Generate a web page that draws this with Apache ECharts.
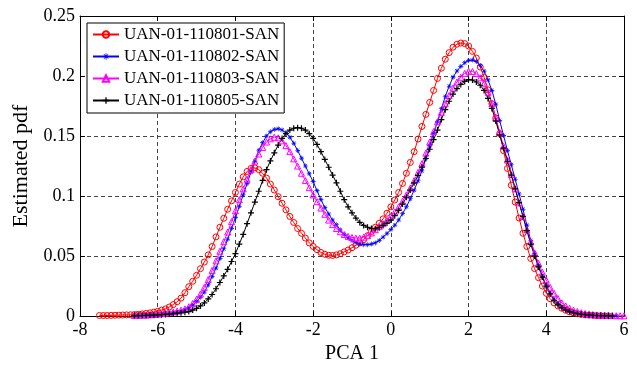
<!DOCTYPE html>
<html>
<head>
<meta charset="utf-8">
<script src="https://cdn.jsdelivr.net/npm/echarts@6/dist/echarts.min.js"></script>
<style>
html,body{margin:0;padding:0;background:#fff;}
#chart{width:637px;height:369px;}
</style>
</head>
<body>
<div id="chart"></div>
<script>
// Sample positions along PCA 1 (shared by all series)
var xs = [
  -7.5,-7.4,-7.3,-7.2,-7.1,-7.0,-6.9,-6.8,-6.7,-6.6,
  -6.5,-6.4,-6.3,-6.2,-6.1,-6.0,-5.9,-5.8,-5.7,-5.6,
  -5.5,-5.4,-5.3,-5.2,-5.1,-5.0,-4.9,-4.8,-4.7,-4.6,
  -4.5,-4.4,-4.3,-4.2,-4.1,-4.0,-3.9,-3.8,-3.7,-3.6,
  -3.5,-3.4,-3.3,-3.2,-3.1,-3.0,-2.9,-2.8,-2.7,-2.6,
  -2.5,-2.4,-2.3,-2.2,-2.1,-2.0,-1.9,-1.8,-1.7,-1.6,
  -1.5,-1.4,-1.3,-1.2,-1.1,-1.0,-0.9,-0.8,-0.7,-0.6,
  -0.5,-0.4,-0.3,-0.2,-0.1,0.0,0.1,0.2,0.3,0.4,
  0.5,0.6,0.7,0.8,0.9,1.0,1.1,1.2,1.3,1.4,
  1.5,1.6,1.7,1.8,1.9,2.0,2.1,2.2,2.3,2.4,
  2.5,2.6,2.7,2.8,2.9,3.0,3.1,3.2,3.3,3.4,
  3.5,3.6,3.7,3.8,3.9,4.0,4.1,4.2,4.3,4.4,
  4.5,4.6,4.7,4.8,4.9,5.0,5.1,5.2,5.3,5.4,
  5.5,5.6,5.7,5.8,5.9,6.0];

var names = ['UAN-01-110801-SAN','UAN-01-110802-SAN','UAN-01-110803-SAN','UAN-01-110805-SAN'];

var pdf110801 = [
  0.0005,0.0005,0.0005,0.0006,0.0007,0.0008,0.0009,0.001,0.0011,0.0013,
  0.0015,0.0018,0.0022,0.0027,0.0033,0.004,0.005,0.006,0.0076,0.0096,
  0.012,0.015,0.0195,0.0245,0.029,0.034,0.0395,0.045,0.051,0.058,
  0.066,0.074,0.0815,0.089,0.096,0.103,0.110,0.116,0.1205,0.123,
  0.1235,0.122,0.119,0.115,0.110,0.105,0.0995,0.094,0.0885,0.083,
  0.078,0.073,0.069,0.065,0.061,0.058,0.0553,0.053,0.0515,0.0507,
  0.0505,0.051,0.052,0.0535,0.055,0.057,0.059,0.061,0.0637,0.067,
  0.0705,0.074,0.0773,0.081,0.0857,0.091,0.0967,0.103,0.1105,0.119,
  0.128,0.137,0.1475,0.158,0.168,0.178,0.188,0.198,0.2065,0.214,
  0.2195,0.224,0.2265,0.2275,0.227,0.225,0.2205,0.215,0.2075,0.199,
  0.1885,0.177,0.165,0.152,0.1378,0.123,0.109,0.095,0.0817,0.069,
  0.058,0.048,0.0395,0.032,0.025,0.019,0.0145,0.011,0.0085,0.0065,
  0.0048,0.0035,0.0027,0.002,0.0014,0.001,0.0008,0.0006,0.0004,0.0003,
  0.0002,0.0002,null,null,null,null];

var pdf110802 = [
  null,null,null,null,null,null,null,null,null,0.0005,
  0.0005,0.0006,0.0007,0.0008,0.001,0.0012,0.0015,0.0018,0.0021,0.0025,
  0.003,0.0037,0.005,0.0068,0.009,0.012,0.0157,0.020,0.026,0.033,
  0.040,0.048,0.056,0.064,0.073,0.082,0.0915,0.101,0.1105,0.120,
  0.129,0.138,0.1445,0.150,0.1535,0.1555,0.156,0.155,0.1525,0.149,
  0.144,0.138,0.1315,0.125,0.1185,0.112,0.1045,0.097,0.0905,0.085,
  0.080,0.076,0.0717,0.068,0.065,0.063,0.0612,0.060,0.0595,0.0595,
  0.060,0.061,0.063,0.0658,0.0688,0.072,0.0757,0.080,0.0853,0.091,
  0.0977,0.105,0.1127,0.121,0.1313,0.142,0.152,0.162,0.1727,0.183,
  0.1915,0.199,0.2042,0.208,0.211,0.213,0.2133,0.212,0.2087,0.204,
  0.1967,0.188,0.1765,0.163,0.1505,0.138,0.126,0.114,0.1017,0.089,
  0.0757,0.063,0.052,0.042,0.033,0.025,0.019,0.014,0.0105,0.0075,
  0.0055,0.004,0.003,0.0022,0.0016,0.0012,0.0009,0.0007,0.0005,0.0004,
  0.0003,0.0003,0.0002,0.0002,null,null];

var pdf110803 = [
  null,null,null,null,null,null,null,null,null,0.0006,
  0.0007,0.0008,0.0009,0.0011,0.0013,0.0016,0.002,0.0024,0.0029,0.0035,
  0.0042,0.005,0.006,0.0078,0.0105,0.014,0.0185,0.024,0.0305,0.038,
  0.046,0.054,0.062,0.070,0.0787,0.0877,0.097,0.106,0.114,0.122,
  0.129,0.135,0.1405,0.145,0.1477,0.149,0.1485,0.146,0.142,0.137,
  0.131,0.125,0.119,0.113,0.107,0.101,0.0953,0.090,0.0848,0.080,
  0.0762,0.073,0.0703,0.068,0.0665,0.0655,0.065,0.065,0.0657,0.067,
  0.0693,0.072,0.0745,0.077,0.0798,0.083,0.0868,0.091,0.0958,0.101,
  0.1067,0.113,0.1197,0.127,0.1358,0.145,0.1537,0.162,0.1697,0.177,
  0.1838,0.190,0.195,0.199,0.2022,0.204,0.2038,0.202,0.1985,0.194,
  0.1865,0.177,0.1655,0.153,0.1415,0.130,0.118,0.106,0.0943,0.083,
  0.072,0.062,0.0528,0.044,0.0365,0.030,0.024,0.019,0.0147,0.011,
  0.0085,0.0065,0.005,0.0038,0.0029,0.0022,0.0017,0.0013,0.001,0.0008,
  0.0006,0.0005,0.0004,0.0003,0.0003,0.0002];

var pdf110805 = [
  null,null,null,null,null,null,null,null,null,0.0004,
  0.0004,0.0005,0.0006,0.0007,0.0008,0.001,0.0012,0.0014,0.0017,0.002,
  0.0024,0.0028,0.0033,0.0038,0.005,0.0065,0.0085,0.011,0.0143,0.018,
  0.0228,0.028,0.0335,0.039,0.0455,0.052,0.060,0.068,0.077,0.086,
  0.095,0.104,0.113,0.122,0.1293,0.136,0.1425,0.148,0.152,0.155,
  0.1565,0.157,0.1565,0.155,0.152,0.148,0.143,0.137,0.1305,0.124,
  0.1175,0.111,0.104,0.097,0.091,0.086,0.0817,0.078,0.0755,0.074,
  0.073,0.0728,0.0737,0.0755,0.0775,0.080,0.0837,0.088,0.0933,0.099,
  0.105,0.111,0.1173,0.124,0.1313,0.139,0.147,0.155,0.1637,0.172,
  0.179,0.185,0.1895,0.193,0.1955,0.197,0.1967,0.195,0.1923,0.188,
  0.1813,0.173,0.1625,0.151,0.140,0.129,0.1175,0.106,0.0945,0.083,
  0.0713,0.060,0.050,0.041,0.0325,0.025,0.0185,0.013,0.0095,0.007,
  0.0052,0.0038,0.0028,0.002,0.0015,0.0012,0.0009,0.0007,0.0005,0.0004,
  0.0003,0.0003,0.0002,null,null,null];

var xTicks = {min:-8, max:6, interval:2};
var yTicks = {min:0, max:0.25, interval:0.05};

function pairs(vals){
  var out = [];
  for (var i=0;i<xs.length;i++){ if (vals[i] !== null && vals[i] !== undefined) out.push([xs[i], vals[i]]); }
  return out;
}

var FONT = 'Liberation Serif';
var plusPath = 'path://M4,0h2v4h4v2h-4v4h-2v-4h-4v-2h4z';
var starPath = 'path://M4.4,0h1.2v3.4l2.4,-2.4l0.85,0.85l-2.4,2.4h3.55v1.2h-3.4l2.4,2.4l-0.85,0.85l-2.4,-2.4v3.7h-1.2v-3.55l-2.4,2.4l-0.85,-0.85l2.4,-2.4h-3.7v-1.2h3.55l-2.4,-2.4l0.85,-0.85l2.4,2.4z';

function mkSeries(name, vals, color, symbol, size, hollow){
  return {
    name: name, type: 'line', data: pairs(vals),
    xAxisIndex: 0, yAxisIndex: 0,
    symbol: symbol, symbolSize: size, showSymbol: true, showAllSymbol: true,
    color: color,
    lineStyle: {color: color, width: 1},
    itemStyle: hollow ? {color: 'rgba(255,255,255,0)', borderColor: color, borderWidth: 1}
                      : {color: color, borderWidth: 0},
    emphasis: {disabled: true},
    animation: false
  };
}

var chart = echarts.init(document.getElementById('chart'), null, {renderer: 'canvas'});
var axisCommon = {
  axisLine: {show: true, onZero: false, lineStyle: {color: '#000', width: 1}},
  axisTick: {show: true, inside: true, length: 5, lineStyle: {color: '#000', width: 1}}
};
chart.setOption({
  animation: false,
  backgroundColor: '#fff',
  grid: {left: 80, right: 13, top: 16, bottom: 49, containLabel: false},
  legend: {
    orient: 'vertical', left: 87, top: 23,
    data: names,
    backgroundColor: '#fff', borderColor: '#000', borderWidth: 1,
    padding: [3, 5, 4, 5], itemGap: 5, itemWidth: 26, itemHeight: 8,
    textStyle: {fontFamily: FONT, fontSize: 17, color: '#000', lineHeight: 17},
    selectedMode: false
  },
  xAxis: [
    Object.assign({type: 'value', position: 'bottom', min: xTicks.min, max: xTicks.max, interval: xTicks.interval,
      name: 'PCA 1', nameLocation: 'middle', nameGap: 25,
      nameTextStyle: {fontFamily: FONT, fontSize: 20, color: '#000'},
      axisLabel: {fontFamily: FONT, fontSize: 18, color: '#000', margin: 5},
      splitLine: {show: true, lineStyle: {color: '#444', type: [4, 3], width: 1}}}, axisCommon),
    Object.assign({type: 'value', position: 'top', min: xTicks.min, max: xTicks.max, interval: xTicks.interval,
      axisLabel: {show: false}, splitLine: {show: false}}, axisCommon)
  ],
  yAxis: [
    Object.assign({type: 'value', position: 'left', min: yTicks.min, max: yTicks.max, interval: yTicks.interval,
      name: 'Estimated pdf', nameLocation: 'middle', nameGap: 34,
      nameTextStyle: {fontFamily: FONT, fontSize: 22, color: '#000'},
      axisLabel: {fontFamily: FONT, fontSize: 18, color: '#000', margin: 5},
      splitLine: {show: true, lineStyle: {color: '#444', type: [4, 3], width: 1}}}, axisCommon),
    Object.assign({type: 'value', position: 'right', min: yTicks.min, max: yTicks.max, interval: yTicks.interval,
      axisLabel: {show: false}, splitLine: {show: false}}, axisCommon)
  ],
  series: [
    mkSeries(names[0], pdf110801, '#ff0000', 'circle', 6, true),
    mkSeries(names[1], pdf110802, '#0000ff', starPath, 5, false),
    mkSeries(names[2], pdf110803, '#ff00ff', 'triangle', 6, true),
    mkSeries(names[3], pdf110805, '#000000', plusPath, 6, false)
  ]
});
</script>
</body>
</html>
